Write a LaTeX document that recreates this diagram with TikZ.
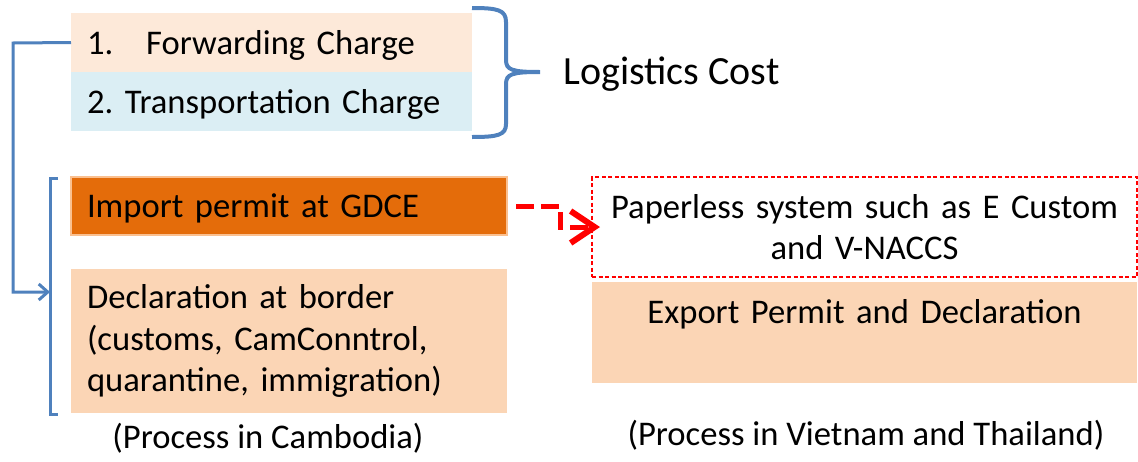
\documentclass[tikz,border=0pt]{standalone}
\usepackage{fontspec}
\setmainfont{Carlito}
\usepackage{xcolor}
\usetikzlibrary{arrows.meta, positioning}
\definecolor{cPeach}{RGB}{253,233,217}
\definecolor{cIce}{RGB}{219,238,244}
\definecolor{cOrange}{RGB}{228,108,10}
\definecolor{cOrangeLine}{RGB}{250,192,144}
\definecolor{cSand}{RGB}{251,213,181}
\definecolor{cBlue}{RGB}{79,129,189}
\definecolor{cRed}{RGB}{255,0,0}
\frenchspacing
\tikzset{
	costbox/.style ={rectangle, minimum width=401pt, minimum height=59pt, text width=369pt, inner xsep=16pt, inner ysep=0pt, outer sep=0pt, align=left, text depth=0pt},
	stepbox/.style ={rectangle, minimum width=436pt, text width=404pt, inner xsep=16pt, inner ysep=0pt, outer sep=0pt, align=left},
	otherbox/.style={rectangle, minimum width=545pt, text width=530pt, inner xsep=7pt, inner ysep=0pt, outer sep=0pt, align=center},
	% blue and red connector styles
	bluelink/.style={draw=cBlue, line width=3pt},
	brace/.style   ={draw=cBlue, line width=4pt},
	redlink/.style ={draw=cRed, line width=5pt, dash pattern=on 18pt off 7pt, -{Straight Barb[length=24pt, width=32pt, line width=6pt]}},
}
\begin{document}
\begin{tikzpicture}[x=1pt, y=-1pt, font=\fontsize{34.6pt}{41.5pt}\selectfont, node distance=0pt]
	\useasboundingbox (0,0) rectangle (1138,461);
	\node[costbox, fill=cPeach] (fwd) at (271.5,42.5) {1.\hspace{33pt}Forwarding Charge};
	\node[costbox, below=of fwd, fill=cIce] (trn) {2. Transportation Charge};
	\node[anchor=west, font=\fontsize{40pt}{48pt}\selectfont] (cost) at (560,74) {Logistics Cost};
	\node[stepbox, minimum height=58pt, text depth=0pt, fill=cOrange, draw=cOrangeLine, line width=1.5pt] (imp) at (289,206) {Import permit at GDCE};
	\node[stepbox, minimum height=144pt, below=34pt of imp, fill=cSand] (dec) {Declaration at border\\ (customs, CamConntrol,\\ quarantine, immigration)};
	\node[otherbox, minimum height=100pt, draw=cRed, line width=1.5pt, dash pattern=on 4pt off 2.5pt] (paper) at (864.5,227) {Paperless system such as E Custom\\ and V-NACCS};
	\node[otherbox, minimum height=101pt, below=5pt of paper, fill=cSand] (exp) {Export Permit and Declaration\\[-12pt] \strut};
	\node (camb) at (268,438) {(Process in Cambodia)};
	\node (vnth) at (866,435) {(Process in Vietnam and Thailand)};
	% brace and bracket
	\draw[brace] (fwd.north east) ++(0,-5) .. controls (498,8) and (506,10) .. (506,22) -- (506,60)
		.. controls (506,70) and (512,72) .. (540,72) .. controls (512,72) and (506,74) .. (506,84)
		-- (506,124) .. controls (506,135) and (498,137) .. (472,137);
	\draw[bluelink] (58,178) -- (50,178) coordinate (brk) -- (50,414) -- (58,414);
	\draw[bluelink, -{Straight Barb[length=9pt, width=16pt]}] (fwd.west) -- (13,43) |- (brk |- 0,292);
	\draw[redlink] ([xshift=9pt]imp.east) -- ++(44,0) |- ([xshift=8pt]paper.west);
\end{tikzpicture}
\end{document}
